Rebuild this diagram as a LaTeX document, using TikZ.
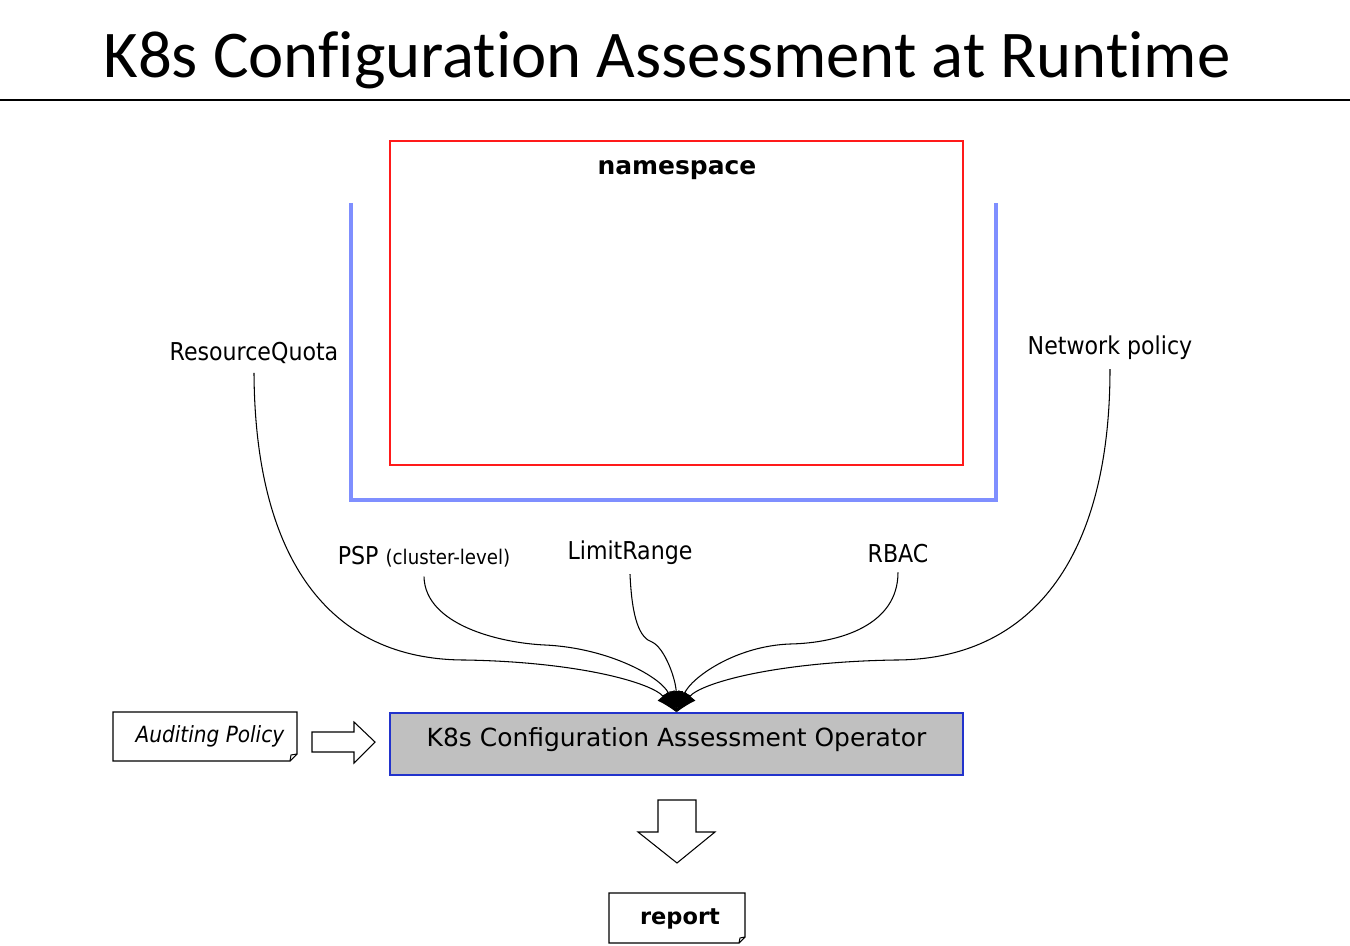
\documentclass[tikz,border=0pt]{standalone}
\usepackage{fontspec}
\setmainfont{DejaVu Sans}
\newfontfamily\titlefont[Ligatures=NoCommon]{Carlito}
\newfontfamily\labelfont{DejaVu Sans Condensed}
\usetikzlibrary{arrows.meta,positioning,calc}
\definecolor{nsred}{HTML}{FF1A1A}
\definecolor{clblue}{HTML}{7F8FFF}
\definecolor{opblue}{HTML}{2233CC}
\definecolor{opgray}{HTML}{C0C0C0}
\tikzset{
  lbl/.style={font=\labelfont\fontsize{14}{17}\selectfont, inner sep=1pt},
  conn/.style={draw=black, line width=0.6pt, -{Latex[length=12pt,width=8pt]}},
  blockarrow/.style={draw=black, line width=0.6pt, fill=white},
  docline/.style={draw=black, line width=0.6pt},
}
\begin{document}
\begin{tikzpicture}[x=0.02cm,y=-0.02cm]
	\useasboundingbox (0,0) rectangle (1350,946);
	
	% title
	\node[font=\titlefont\fontsize{38}{45}\selectfont] (title) at (667,60) {K8s Configuration Assessment at Runtime};
	\draw[line width=0.7pt] (0,100) -- (1350,100);
	
	% namespace and cluster
	\draw[nsred, line width=0.9pt] (390,141) rectangle (963,465);
	\node[font=\bfseries\fontsize{14.2}{17}\selectfont] (ns) at (677,170) {namespace};
	\draw[clblue, line width=1.8pt] (351,203) -- (351,500) -- (996,500) -- (996,203);
	
	% labels
	\node[lbl] (rq) at (254,353) {ResourceQuota};
	\node[lbl] (np) at (1110,348) {Network policy};
	\node[lbl] (psp) at (424,557) {PSP {\fontsize{11.5}{14}\selectfont(cluster-level)}};
	\node[lbl] (lr) at (630,553) {LimitRange};
	\node[lbl] (rbac) at (898,554) {RBAC};
	
	% operator
	\node[draw=opblue, fill=opgray, line width=0.8pt, minimum width=11.46cm, minimum height=1.24cm,
		text height=10pt, text depth=6.6pt,
		font=\fontsize{14.2}{17}\selectfont] (op) at (676.5,744) {K8s Configuration Assessment Operator};
	
	% connectors
	\draw[conn] ([yshift=-4pt]rq.south) .. controls (255,560) and (330,660) .. (465,660)
		.. controls (580,662) and (652,683) .. (op.north);
	\draw[conn] ([yshift=-4pt]psp.south) .. controls (425,625) and (500,643) .. (545,645)
		.. controls (610,648) and (662,678) .. (op.north);
	\draw[conn] ([yshift=-4pt]lr.south) .. controls (632,620) and (640,638) .. (652,642)
		.. controls (665,648) and (676,680) .. (op.north);
	\draw[conn] ([yshift=-4pt]rbac.south) .. controls (898,625) and (840,643) .. (790,644)
		.. controls (735,646) and (691,678) .. (op.north);
	\draw[conn] ([yshift=-4pt]np.south) .. controls (1110,560) and (1030,660) .. (895,660)
		.. controls (775,662) and (701,683) .. (op.north);
	
	% auditing policy
	\node[font=\labelfont\itshape\fontsize{12.7}{15}\selectfont] (audit) at (210,736) {Auditing Policy};
	\draw[docline] (113,712) -- (297,712) -- (297,754) -- (290,761) -- (113,761) -- cycle;
	\draw[docline] (290,761) -- (291,755) -- (297,754);
	\draw[blockarrow] (312,732) -- (354,732) -- (354,722) -- (375,742) -- (354,763) -- (354,752) -- (312,752) -- cycle;
	
	% report
	\draw[blockarrow] (658,800) -- (696,800) -- (696,832) -- (715,832) -- (677,863) -- (638,832) -- (658,832) -- cycle;
	\node[font=\bfseries\fontsize{12.8}{15}\selectfont] (rep) at (680,919) {report};
	\draw[docline] (609,893) -- (745,893) -- (745,937) -- (739,943) -- (609,943) -- cycle;
	\draw[docline] (739,943) -- (740,938) -- (745,937);
	
\end{tikzpicture}
\end{document}
